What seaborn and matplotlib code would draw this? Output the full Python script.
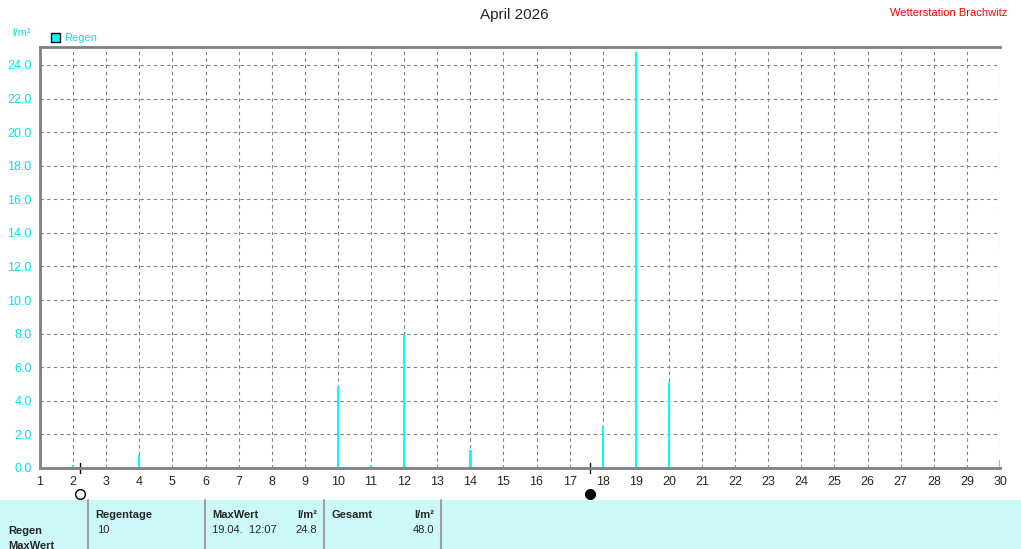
import matplotlib
matplotlib.use("Agg")
import matplotlib.pyplot as plt
import seaborn as sns
import pandas as pd

days = [2, 4, 10, 11, 12, 14, 18, 19, 20, 30]
rain = [0.2, 0.8, 4.8, 0.2, 8.0, 1.1, 2.5, 24.8, 5.1, 0.5]
yticks = [0, 2, 4, 6, 8, 10, 12, 14, 16, 18, 20, 22, 24]
moon_full = 2.2
moon_new = 17.6

sns.set_style("white")
plt.rcParams['font.family'] = ['Liberation Sans', 'DejaVu Sans']

fig = plt.figure(figsize=(10.21, 5.49), dpi=100)
ax = fig.add_axes([40/1021, 1-468/549, 960/1021, 421/549])

df = pd.DataFrame({"day": days, "rain": rain})
sns.barplot(data=df, x="day", y="rain", native_scale=True, width=0.07,
            color="#00ffff", saturation=1, ax=ax, linewidth=0)

ax.set_xlim(1, 30)
ax.set_ylim(0, 25.07)
ax.set_xticks(range(1, 31))
ax.set_yticks(yticks)
ax.set_yticklabels([f"{v:.1f}" for v in yticks], color="#00e5e5", fontsize=9)
ax.tick_params(axis="x", labelsize=9, length=4, direction="out", pad=2)
ax.tick_params(axis="y", length=4, direction="out", pad=2)
ax.grid(True, color="#808080", linestyle=(0, (3, 3)), linewidth=0.8)
ax.set_xlabel("")
ax.set_ylabel("")
for s in ax.spines.values():
    s.set_color("#808080")
    s.set_linewidth(2)
ax.spines["right"].set_visible(False)

# moon phases
for pos, fc in [(moon_full, "white"), (moon_new, "black")]:
    ax.plot([pos, pos], [-0.3, 0.3], color="black", lw=1, clip_on=False)
    ax.plot(pos, -1.55, "o", ms=7, mfc=fc, mec="black", clip_on=False)

fig.text(514/1021, 1-15/549, "April 2026", ha="center", va="center", fontsize=11)
fig.text(1007/1021, 1-13/549, "Wetterstation Brachwitz", ha="right", va="center",
         fontsize=8, color="red")
fig.text(12/1021, 1-33/549, "l/m²", color="#00e5e5", fontsize=8, va="center")
fig.patches.append(plt.Rectangle((51/1021, 1-42/549), 9/1021, 9/549, transform=fig.transFigure,
                                 fc="#00ffff", ec="black", lw=1))
fig.text(64/1021, 1-38/549, "Regen", color="#00e5e5", fontsize=8, va="center")

# table
fig.patches.append(plt.Rectangle((0, 0), 1, 49/549, transform=fig.transFigure,
                                 fc="#ccf8f8", ec="none"))
for xp in [88, 205, 324, 441]:
    fig.add_artist(plt.Line2D([xp/1021, xp/1021], [0, 49/549], color="#a0a0a0", lw=1.5))
def t(x, y, s, ha="left", bold=False):
    fig.text(x/1021, 1-y/549, s, ha=ha, va="center", fontsize=8,
             fontweight="bold" if bold else "normal")
t(8, 531, "Regen", bold=True)
t(8, 546, "MaxWert", bold=True)
t(95, 515, "Regentage", bold=True)
t(97, 530, "10")
t(212, 515, "MaxWert", bold=True)
t(317, 515, "l/m²", ha="right", bold=True)
t(212, 530, "19.04.  12:07")
t(317, 530, "24.8", ha="right")
t(331, 515, "Gesamt", bold=True)
t(434, 515, "l/m²", ha="right", bold=True)
t(434, 530, "48.0", ha="right")

fig.savefig("out.png", dpi=100)
